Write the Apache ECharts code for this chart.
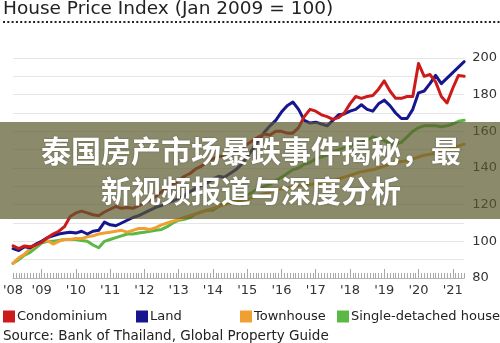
<!DOCTYPE html>
<html>
<head>
<meta charset="utf-8">
<script src="https://cdn.jsdelivr.net/npm/echarts@6/dist/echarts.min.js"></script>
<style>
  html, body { margin: 0; padding: 0; background: #ffffff; }
  #chart { width: 500px; height: 343px; }
</style>
</head>
<body>
<div id="chart"></div>
<script>
// Year tick labels shown along the time axis
const yearLabels = ["'08", "'09", "'10", "'11", "'12", "'13", "'14", "'15", "'16", "'17", "'18", "'19", "'20", "'21"];
// Monthly axis runs from March 2008 to May 2021
const firstYear = 2008, firstMonth = 3;
const lastYear = 2021, lastMonth = 5;
// Index values are sampled every second month, starting at the first month
const sampleStep = 2;

const condominium = [
  97.5, 96, 97.5, 97, 98, 99.5, 102, 104, 105.5, 108,
  113.5, 115.5, 116.5, 115.5, 114.5, 114, 116, 117.5, 119, 118,
  118.5, 118, 119.5, 121, 122.5, 124.5, 127, 129, 131, 133,
  135.5, 137, 139.5, 141, 143.5, 145, 146.5, 146, 147.5, 149,
  151, 153, 155, 157, 158.5, 158, 160, 160, 159, 159,
  162, 168, 172, 171, 169, 168, 166.5, 167.5, 170, 175,
  179, 178, 179, 179.5, 183, 187.5, 182, 178, 178, 179,
  179, 197, 190, 191, 187, 179, 175.5, 183.5, 190.5, 190
];
const land = [
  96, 95, 97, 96.5, 98.5, 100, 102, 103, 104, 104.5,
  105, 104.5, 105.5, 104, 105.5, 106, 110.5, 109, 108.5, 110,
  111.5, 113, 114, 115.5, 117, 118.5, 119.5, 121, 122, 123.5,
  125, 127, 129, 130.5, 132, 134, 135.5, 135, 137, 139,
  142, 146, 150.5, 155, 159.5, 163, 166, 170.5, 174, 176,
  172, 166, 164.5, 165, 164, 163, 166, 169, 169.5, 171,
  172, 174.5, 172, 171, 175, 177, 174, 170, 167, 167,
  172, 181, 182, 186, 190.5, 186, 189, 192, 195, 198
];
const townhouse = [
  88, 91, 93, 96, 98, 100, 100.5, 98.5, 100, 101,
  101, 101.5, 101.5, 102.5, 103, 104, 104.5, 105, 105.5, 106,
  105, 106, 107, 107, 106.5, 107.5, 109, 110, 111, 112,
  113, 114, 115, 116, 117, 118, 119, 120, 121, 121.5,
  122, 123, 124, 125, 126, 127, 128, 128.5, 129, 130,
  130.5, 131, 131, 131.5, 132, 132.5, 133, 134, 135, 136,
  137, 138, 138.5, 139, 140, 141, 142, 143, 143.5, 144,
  145, 146, 147, 147.5, 148, 149, 150, 151, 152, 153
];
const singleDetached = [
  88, 90, 92.5, 94, 96.5, 99, 100, 100, 100.5, 101,
  101, 101, 100.5, 100, 98, 96.5, 100, 101, 102, 103,
  104, 104, 104.5, 105, 105.5, 106, 106.5, 108, 110, 111.5,
  112, 113, 115, 116, 117, 117, 119, 121, 121, 122,
  124, 125, 127, 129, 130, 131, 133, 135, 137, 139,
  140, 142, 143, 145, 146, 147, 149, 150, 151, 152,
  153, 154, 155, 157, 156, 155, 153, 153, 154, 157,
  160, 162, 163, 163, 163, 162.5, 163, 164, 165.5, 166
];

// Value axis range and steps
const yMin = 80, yMax = 200, yGridStep = 10, yLabelStep = 20;

const seriesNames = ['Condominium', 'Land', 'Townhouse', 'Single-detached house'];
const seriesColors = ['#cc1b1b', '#16168f', '#f0a030', '#5cb844'];

// Month categories: "YYYY-MM"
const months = [];
for (let y = firstYear, m = firstMonth; y < lastYear || (y === lastYear && m <= lastMonth); ) {
  months.push(y + '-' + String(m).padStart(2, '0'));
  m++;
  if (m > 12) { m = 1; y++; }
}
const isJanuary = (val) => val.slice(5) === '01';
const yearLabelOf = (val) => yearLabels[parseInt(val.slice(0, 4), 10) - firstYear];

const toPairs = (arr) => arr.map((v, j) => [months[j * sampleStep], v]);

const chart = echarts.init(document.getElementById('chart'), null, { renderer: 'canvas' });

const baseFont = 'DejaVu Sans';

const lineSeries = (idx) => ({
  name: seriesNames[idx],
  type: 'line',
  xAxisIndex: 0,
  showSymbol: false,
  symbol: 'none',
  smooth: false,
  lineStyle: { width: 3, color: seriesColors[idx], cap: 'round', join: 'round' },
  itemStyle: { color: seriesColors[idx] },
  data: toPairs([condominium, land, townhouse, singleDetached][idx]),
  z: 10 - idx,
  animation: false
});

const legendAt = (idx, left) => ({
  data: [seriesNames[idx]],
  left: left,
  top: 310,
  padding: 0,
  icon: 'rect',
  itemWidth: 12,
  itemHeight: 12,
  itemGap: 0,
  selectedMode: false,
  textStyle: { fontFamily: baseFont, fontSize: 13, color: '#222', padding: [0, 0, 0, -3] }
});

chart.setOption({
  animation: false,
  backgroundColor: '#ffffff',
  title: {
    text: 'House Price Index (Jan 2009 = 100)',
    left: 3,
    top: 0,
    padding: 0,
    textStyle: { fontFamily: baseFont, fontSize: 18.5, fontWeight: 'normal', color: '#222' }
  },
  legend: [legendAt(0, 3), legendAt(1, 136), legendAt(2, 240), legendAt(3, 337)],
  grid: { left: 12, right: 25, top: 58, bottom: 65, containLabel: false },
  xAxis: [
    {
      type: 'category',
      data: months,
      boundaryGap: false,
      position: 'bottom',
      axisLine: { show: true, lineStyle: { color: '#b5b5b5', width: 1 } },
      axisTick: {
        show: true, inside: true, length: 9,
        interval: (i, val) => isJanuary(val),
        lineStyle: { color: '#a8a8a8', width: 1 }
      },
      axisLabel: {
        show: true,
        interval: (i, val) => i === 0 || isJanuary(val),
        formatter: (val) => yearLabelOf(val),
        fontFamily: baseFont, fontSize: 13, color: '#333', margin: 6
      },
      splitLine: { show: false }
    },
    {
      type: 'category',
      data: months,
      boundaryGap: false,
      position: 'bottom',
      axisLine: { show: false },
      axisTick: {
        show: true, inside: true, length: 5, interval: 0,
        lineStyle: { color: '#a8a8a8', width: 1 }
      },
      axisLabel: { show: false },
      splitLine: { show: false }
    }
  ],
  yAxis: {
    type: 'value',
    position: 'right',
    min: yMin,
    max: yMax,
    interval: yGridStep,
    axisLine: { show: false },
    axisTick: { show: false },
    axisLabel: {
      formatter: (v) => (v % yLabelStep === 0 ? String(v) : ''),
      fontFamily: baseFont, fontSize: 13, color: '#333', margin: 8
    },
    splitLine: { show: true, lineStyle: { color: '#e6e6e6', width: 1 } }
  },
  series: [lineSeries(3), lineSeries(2), lineSeries(1), lineSeries(0)],
  graphic: [
    {
      type: 'line',
      shape: { x1: 3, y1: 22, x2: 500, y2: 22 },
      style: { stroke: '#222', lineWidth: 2, lineDash: [2, 2.3] },
      silent: true
    },
    {
      type: 'text',
      left: 3,
      top: 329,
      style: {
        text: 'Source: Bank of Thailand, Global Property Guide',
        font: '13.5px "DejaVu Sans"',
        fill: '#222'
      },
      silent: true
    },
    {
      type: 'rect',
      shape: { x: 0, y: 122, width: 500, height: 97 },
      style: { fill: 'rgba(90, 90, 45, 0.70)' },
      z: 100,
      silent: true
    },
    {
      type: 'text',
      x: 251,
      y: 171,
      z: 101,
      style: {
        text: '泰国房产市场暴跌事件揭秘，最\n新视频报道与深度分析',
        font: 'bold 30px "Noto Sans CJK SC"',
        lineHeight: 40,
        fill: '#ffffff',
        align: 'center',
        verticalAlign: 'middle',
        textShadowColor: 'rgba(0,0,0,0.35)',
        textShadowBlur: 2
      },
      silent: true
    }
  ]
});
</script>
</body>
</html>
